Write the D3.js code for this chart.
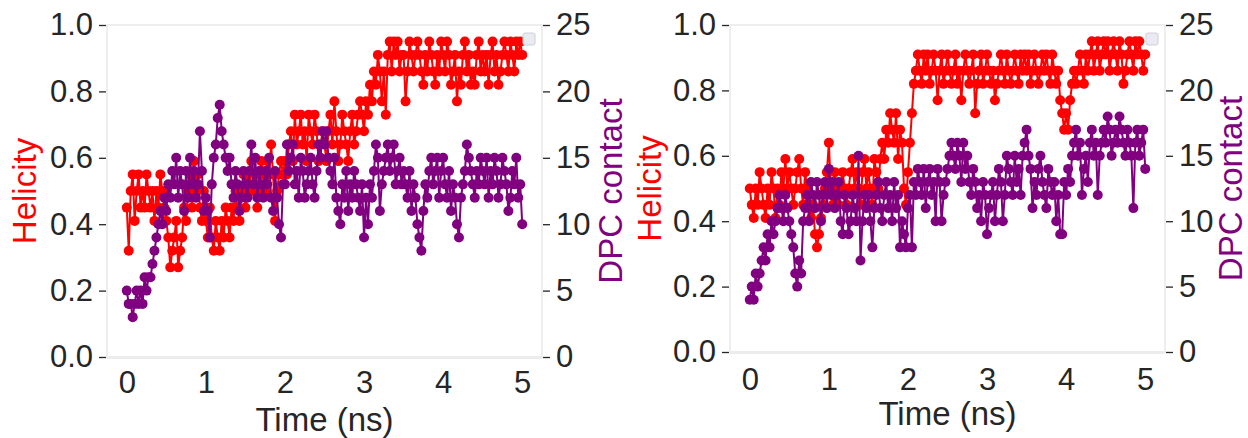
<!DOCTYPE html>
<html>
<head>
<meta charset="utf-8">
<script src="https://cdn.jsdelivr.net/npm/d3@7"></script>
<style>
  html, body { margin: 0; padding: 0; background: #ffffff; }
  svg { display: block; font-family: "Liberation Sans", Arial, sans-serif; }
</style>
</head>
<body>
<svg id="chart" width="1248" height="438"></svg>
<script>
// ---------------- DATA ----------------
const timeTicks = [0, 1, 2, 3, 4, 5];
const helicityTicks = [0.0, 0.2, 0.4, 0.6, 0.8, 1.0];
const contactTicks = [0, 5, 10, 15, 20, 25];
// sampling times (ns), one frame every 0.025 ns from 0 to 5
const timeNs = d3.range(201).map(i => +(i * 0.025).toFixed(3));

// Panel 1 helicity
const helicity1 = [
  .45,.32,.50,.55,.41,.50,.55,.45,.50,.45,.55,.50,.45,.50,.41,.50,.45,.55,.50,.45,
  .41,.36,.27,.32,.36,.41,.27,.32,.36,.45,.41,.50,.55,.45,.59,.50,.55,.45,.41,.50,
  .41,.36,.45,.36,.32,.41,.36,.32,.41,.36,.45,.41,.36,.45,.41,.50,.45,.41,.50,.55,
  .45,.55,.50,.59,.50,.55,.45,.50,.59,.55,.50,.59,.55,.64,.55,.41,.50,.55,.59,.55,
  .59,.55,.64,.68,.59,.73,.64,.68,.73,.64,.68,.59,.73,.68,.64,.73,.68,.59,.64,.68,
  .64,.59,.68,.73,.64,.77,.68,.59,.64,.73,.68,.64,.59,.68,.73,.64,.68,.73,.77,.73,
  .68,.77,.73,.82,.77,.86,.82,.91,.86,.77,.86,.73,.91,.95,.86,.95,.91,.95,.86,.91,
  .91,.77,.86,.95,.91,.86,.91,.95,.91,.86,.82,.91,.86,.95,.91,.86,.82,.91,.86,.95,
  .91,.86,.95,.91,.82,.86,.91,.77,.86,.82,.91,.95,.86,.91,.82,.86,.82,.91,.95,.86,
  .91,.86,.91,.82,.91,.95,.86,.91,.82,.86,.91,.95,.91,.86,.95,.91,.86,.95,.91,.95,
  .91
];
// Panel 1 DPC contacts
const contact1 = [
  5,4,4,3,4,5,4,5,4,6,5,6,6,7,8,9,10,11,10,12,
  11,13,12,14,13,15,12,14,13,11,14,12,15,13,14,12,13,17,14,11,
  12,11,9,13,15,16,18,19,17,16,15,14,15,13,12,14,13,11,12,14,
  13,12,14,16,13,15,12,14,13,12,14,13,15,12,11,14,12,10,9,13,
  13,16,14,15,16,13,14,12,15,14,12,13,14,15,13,12,14,16,15,17,
  16,17,15,14,13,15,12,11,10,13,12,14,11,13,12,14,13,12,11,13,
  9,12,10,13,12,14,16,15,11,13,14,15,16,14,15,16,13,14,15,13,
  14,13,12,14,11,13,12,10,9,8,11,13,12,14,15,13,14,15,12,14,
  15,13,12,14,11,13,12,10,9,12,13,14,16,15,14,13,12,14,13,15,
  14,13,15,12,14,13,15,14,12,13,15,14,13,11,12,14,13,15,12,13,
  10
];
// Panel 2 helicity
const helicity2 = [
  .50,.45,.41,.50,.45,.55,.50,.45,.41,.50,.45,.55,.50,.41,.50,.45,.55,.50,.59,.50,
  .55,.50,.45,.50,.55,.59,.50,.45,.55,.50,.45,.41,.45,.36,.32,.36,.41,.45,.50,.55,
  .64,.50,.45,.55,.50,.45,.50,.55,.50,.45,.50,.55,.59,.50,.55,.50,.45,.55,.59,.50,
  .55,.50,.45,.59,.55,.50,.59,.64,.59,.68,.64,.73,.68,.64,.73,.59,.68,.64,.50,.45,
  .55,.64,.73,.82,.86,.91,.86,.82,.91,.86,.91,.82,.86,.91,.86,.77,.86,.91,.82,.86,
  .91,.86,.82,.86,.91,.82,.86,.77,.86,.91,.86,.82,.86,.91,.73,.82,.86,.91,.82,.86,
  .91,.86,.82,.86,.77,.82,.86,.91,.86,.82,.91,.86,.82,.86,.91,.86,.82,.91,.86,.91,
  .86,.91,.82,.86,.91,.86,.82,.86,.91,.86,.91,.86,.82,.91,.86,.82,.86,.77,.73,.68,
  .73,.68,.77,.82,.86,.82,.86,.91,.86,.82,.91,.86,.91,.95,.86,.91,.95,.86,.91,.95,
  .91,.95,.86,.91,.95,.91,.86,.95,.91,.82,.86,.91,.95,.91,.86,.95,.91,.95,.91,.86,
  .91
];
// Panel 2 DPC contacts
const contact2 = [
  4,5,4,6,5,6,7,8,7,9,8,10,9,10,11,12,11,10,12,11,
  10,9,8,6,5,7,6,10,11,12,10,13,12,11,13,12,10,12,13,11,
  14,12,13,11,12,13,10,9,12,11,9,10,12,11,10,15,7,10,12,11,
  12,10,8,11,12,13,11,10,12,13,11,12,10,13,11,12,8,10,9,8,
  11,12,8,13,12,14,13,12,14,11,13,14,12,13,10,14,13,10,12,13,
  14,15,16,15,14,16,15,13,16,14,15,13,12,14,13,11,12,10,13,12,
  9,11,12,13,10,12,14,13,10,12,15,14,13,12,15,13,14,12,15,16,
  17,15,14,11,13,12,14,15,13,12,11,14,13,12,13,10,12,9,9,13,
  12,14,13,15,16,17,15,16,12,14,15,13,16,17,15,16,12,15,16,17,
  16,18,17,15,16,17,16,18,17,16,15,17,16,15,11,16,17,15,16,17,
  14
];

const xLabel = "Time (ns)";
const leftLabel = "Helicity";
const rightLabel = "DPC contact";
const helicityColor = "#ff0000";
const contactColor = "#800080";

// ---------------- LAYOUT ----------------
const panels = [
  { left: 107, right: 542, top: 25, bottom: 357, hel: helicity1, con: contact1,
    leftLabelX: 24, rightLabelX: 610, xTickY: 393, xLabelY: 431 },
  { left: 730, right: 1165, top: 25, bottom: 352, hel: helicity2, con: contact2,
    leftLabelX: 649, rightLabelX: 1230, xTickY: 390, xLabelY: 425 }
];

const svg = d3.select("#chart");
const textColor = "#262626";
const tickFont = 31;
const labelFont = 33;

panels.forEach(p => {
  const x = d3.scaleLinear().domain([-0.25, 5.25]).range([p.left, p.right]);
  const yL = d3.scaleLinear().domain([0, 1]).range([p.bottom, p.top]);
  const yR = d3.scaleLinear().domain([0, 25]).range([p.bottom, p.top]);
  const g = svg.append("g");

  // frame
  g.append("rect")
    .attr("x", p.left).attr("y", p.top)
    .attr("width", p.right - p.left).attr("height", p.bottom - p.top)
    .attr("fill", "#ffffff").attr("stroke", "#e3e3e3").attr("stroke-width", 1.2);
  g.append("line")
    .attr("x1", p.left).attr("x2", p.right)
    .attr("y1", p.bottom + 0.5).attr("y2", p.bottom + 0.5)
    .attr("stroke", "#ececec").attr("stroke-width", 3);

  // left axis
  const axL = d3.axisLeft(yL).tickValues(helicityTicks).tickFormat(d3.format(".1f"))
    .tickSize(7).tickPadding(6);
  const gL = g.append("g").attr("transform", `translate(${p.left - 1},0)`).call(axL);
  // right axis
  const axR = d3.axisRight(yR).tickValues(contactTicks).tickFormat(d3.format("d"))
    .tickSize(7).tickPadding(6);
  const gR = g.append("g").attr("transform", `translate(${p.right + 1},0)`).call(axR);
  // bottom axis (labels only)
  const axB = d3.axisBottom(x).tickValues(timeTicks).tickFormat(d3.format("d"))
    .tickSize(0).tickPadding(0);
  const gB = g.append("g").attr("transform", `translate(0,${p.bottom})`).call(axB);

  [gL, gR, gB].forEach(ax => {
    ax.select(".domain").remove();
    ax.selectAll(".tick line").attr("stroke", textColor).attr("stroke-width", 1.3);
    ax.selectAll(".tick text").attr("fill", textColor)
      .style("font-size", tickFont + "px")
      .style("font-family", "'Liberation Sans', Arial, sans-serif");
  });
  gB.selectAll(".tick text").attr("dy", null).attr("y", p.xTickY - p.bottom)
    .attr("dominant-baseline", "alphabetic");

  // axis labels
  g.append("text")
    .attr("transform", `translate(${p.leftLabelX},${(p.top + p.bottom) / 2}) rotate(-90)`)
    .attr("text-anchor", "middle").attr("dominant-baseline", "central")
    .attr("fill", helicityColor).style("font-size", labelFont + "px")
    .text(leftLabel);
  g.append("text")
    .attr("transform", `translate(${p.rightLabelX},${(p.top + p.bottom) / 2}) rotate(-90)`)
    .attr("text-anchor", "middle").attr("dominant-baseline", "central")
    .attr("fill", contactColor).style("font-size", labelFont + "px")
    .text(rightLabel);
  g.append("text")
    .attr("x", (p.left + p.right) / 2).attr("y", p.xLabelY)
    .attr("text-anchor", "middle").attr("fill", textColor)
    .style("font-size", labelFont + "px")
    .text(xLabel);

  // series
  const series = [
    { vals: p.hel, y: yL, color: helicityColor },
    { vals: p.con, y: yR, color: contactColor }
  ];
  series.forEach(s => {
    const pts = timeNs.map((t, i) => [t, s.vals[i]]);
    const line = d3.line().x(d => x(d[0])).y(d => s.y(d[1]));
    g.append("path").datum(pts)
      .attr("d", line).attr("fill", "none")
      .attr("stroke", s.color).attr("stroke-width", 2);
    g.append("g").selectAll("circle").data(pts).join("circle")
      .attr("cx", d => x(d[0])).attr("cy", d => s.y(d[1]))
      .attr("r", 5).attr("fill", s.color);
  });

  // empty legend box
  g.append("rect")
    .attr("x", p.right - 19).attr("y", p.top + 8)
    .attr("width", 12).attr("height", 12).attr("rx", 2)
    .attr("fill", "#eaeaf2").attr("stroke", "#cfcfd8").attr("stroke-width", 1);
});
</script>
</body>
</html>
